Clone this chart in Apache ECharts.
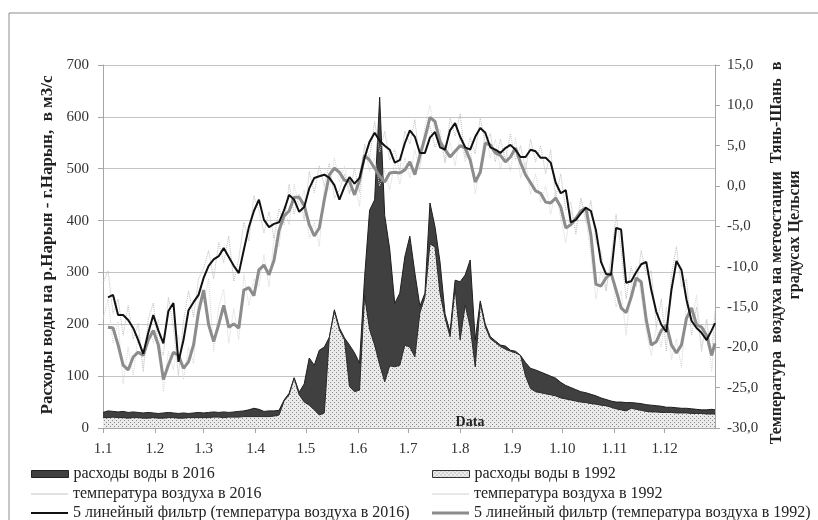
<!DOCTYPE html>
<html>
<head>
<meta charset="utf-8">
<script src="https://cdn.jsdelivr.net/npm/echarts@6/dist/echarts.min.js"></script>
<style>
html,body{margin:0;padding:0;background:#fff;}
#chart{width:818px;height:520px;}
</style>
</head>
<body>
<div id="chart"></div>
<script>
// ---- data ----
const monthLabels = ['1.1','1.2','1.3','1.4','1.5','1.6','1.7','1.8','1.9','1.10','1.11','1.12'];
const monthStarts = [0,31,60,91,121,152,182,213,244,274,305,335];

const days = [0,3,6,9,12,15,18,21,24,27,30,33,36,39,42,45,48,51,54,57,60,63,66,69,72,75,78,81,84,87,90,93,96,99,102,105,108,111,114,117,120,123,126,129,132,135,138,141,144,147,150,153,156,159,162,165,168,171,174,177,180,183,186,189,192,195,198,201,204,207,210,213,216,219,222,225,228,231,234,237,240,243,246,249,252,255,258,261,264,267,270,273,276,279,282,285,288,291,294,297,300,303,306,309,312,315,318,321,324,327,330,333,336,339,342,345,348,351,354,357,360,363,365];

// discharge, m3/s
const flow2016 = [30,33,32,31,32,30,31,30,29,30, 29,28,29,30,29,28,29,28,29,30,
 29,30,31,30,31,30,31,32,33,35, 38,36,32,33,33,34,54,67,97,69,
 85,135,121,150,156,175,228,193,174,160, 145,125,290,420,440,638,410,345,240,260,
 330,370,299,235,260,434,388,320,220,185, 285,282,295,324,170,245,200,176,168,160,
 158,150,148,140,126,115,112,108,104,100, 96,88,82,78,74,70,68,65,62,58,
 55,52,50,50,49,49,48,47,45,44, 43,42,40,40,39,38,38,37,36,35, 35,36,35];

const flow1992 = [20,20,21,20,20,19,20,20,19,19, 20,19,19,20,20,19,19,20,20,20,
 20,20,21,21,20,21,21,21,22,22, 22,22,22,22,23,25,52,64,96,64,
 50,44,35,25,29,175,225,189,170,80, 70,73,255,190,160,122,89,120,118,121,
 160,156,137,222,253,355,349,260,212,176, 270,170,237,195,118,240,195,172,165,157,
 152,148,145,140,100,76,70,68,66,64, 62,58,56,54,52,50,49,47,46,44,
 43,40,37,35,33,38,36,34,32,31, 31,30,30,30,29,29,29,28,28,28, 27,27,27];

// air temperature, deg C
const temp2016 = [-12.0,-10.5,-15.8,-14.0,-18.5,-14.8,-19.0,-17.0,-23.0,-16.5,
 -14.5,-19.8,-21.0,-13.8,-17.5,-23.5,-16.8,-13.0,-16.2,-11.5,
 -10.2,-8.0,-11.5,-7.0,-9.5,-6.2,-11.8,-9.0,-4.5,-6.8,
 -1.2,-3.0,-5.8,-3.2,-6.5,-2.8,-4.8,0.2,-3.5,-1.0,
 -4.2,1.8,-0.8,2.5,0.0,2.8,-1.5,-0.5,1.5,-1.0,
 2.2,-0.8,5.2,3.5,8.0,4.2,6.8,3.2,4.5,1.8,
 6.8,5.2,8.2,2.8,5.5,7.5,4.8,6.2,3.0,8.5,
 6.2,9.0,3.5,6.0,4.0,8.5,5.2,6.5,3.0,5.8,
 3.2,6.5,3.2,5.0,2.0,5.8,3.0,5.0,1.5,4.5,
 -1.5,1.5,-3.0,-2.0,-6.0,-1.5,-4.5,-1.8,-7.0,-8.0,
 -13.0,-9.0,-3.5,-8.0,-14.0,-10.0,-12.5,-8.0,-11.0,-10.5,
 -17.5,-14.0,-20.5,-11.0,-7.5,-12.5,-11.5,-18.5,-15.0,-20.5,
 -16.5,-21.0,-15.5];

const temp1992 = [-16.5,-14.0,-19.5,-16.8,-24.5,-20.0,-23.5,-18.5,-22.5,-17.0,
 -19.5,-16.5,-25.5,-20.5,-22.8,-18.5,-24.0,-20.0,-22.0,-13.5,
 -14.5,-11.5,-20.5,-15.0,-12.8,-19.5,-15.2,-19.0,-11.0,-14.8,
 -11.5,-12.5,-8.5,-12.5,-6.5,-7.5,-2.5,-4.8,0.2,-2.5,
 -0.5,-6.5,-4.5,-7.5,0.0,-0.5,3.5,0.5,2.5,-0.8,
 0.5,-2.5,4.8,1.8,3.5,0.0,2.0,-0.5,3.0,0.2,
 3.5,1.0,4.5,2.0,7.5,10.0,6.5,7.0,2.8,5.5,
 2.5,6.5,3.0,5.0,-1.0,2.5,6.8,3.5,5.8,2.0,
 4.8,1.8,6.0,1.0,3.0,-1.0,1.5,-2.0,0.0,-3.5,
 -0.5,-4.0,-7.0,-3.0,-5.5,-1.5,-4.0,-8.5,-14.0,-10.5,
 -13.0,-9.0,-15.0,-13.0,-18.5,-12.5,-10.0,-13.5,-18.0,-21.0,
 -17.5,-20.0,-15.0,-21.5,-19.0,-22.5,-14.5,-17.0,-13.5,-20.0,
 -16.5,-23.0,-18.0];

// 5-point filter lines as drawn
const filt2016 = [null,-13.8,-13.5,-16.0,-16.0,-16.6,-17.6,-19.1,-20.8,-18.2,
 -16.0,-17.9,-19.5,-15.5,-14.5,-21.8,-19.1,-15.4,-14.4,-13.5,
 -11.4,-9.9,-9.1,-8.7,-7.7,-8.8,-9.9,-10.8,-7.9,-5.1,
 -3.1,-1.7,-4.2,-5.1,-4.7,-4.5,-3.0,-1.1,-1.7,-3.2,
 -2.6,-0.3,1.0,1.2,1.4,1.0,0.1,-1.7,-0.1,1.1,
 0.3,1.0,3.5,5.5,6.6,5.6,5.0,4.5,2.9,3.2,
 5.3,6.9,6.1,4.1,4.1,6.0,6.7,4.8,4.5,6.9,
 7.8,6.1,4.8,4.5,6.1,7.2,6.6,4.8,4.5,4.1,
 4.7,5.1,4.5,3.6,3.6,4.5,4.3,3.5,3.5,2.9,
 0.4,-0.9,-0.5,-4.5,-4.2,-3.4,-2.7,-3.1,-5.5,-9.4,
 -10.9,-11.0,-5.2,-5.4,-12.0,-11.8,-10.7,-9.7,-9.4,-12.9,
 -15.6,-17.2,-18.1,-12.9,-9.3,-10.4,-14.1,-16.7,-17.6,-18.2,
 -19.1,-17.9,-17.0];

const filt1992 = [null,-17.5,-17.6,-19.7,-22.2,-22.8,-21.2,-20.6,-21.0,-19.1,
 -17.9,-19.7,-24.0,-22.2,-20.6,-21.0,-22.6,-21.8,-19.7,-15.6,
 -12.9,-17.2,-19.3,-17.2,-14.8,-17.5,-17.1,-17.6,-12.9,-12.6,
 -13.6,-10.4,-9.8,-11.0,-9.2,-5.5,-3.7,-3.1,-1.4,-1.4,
 -2.4,-4.8,-6.2,-5.2,-1.7,1.4,2.2,1.7,0.7,0.6,
 -1.1,0.7,3.8,3.2,2.2,1.2,0.5,1.6,1.7,1.6,
 2.0,3.0,1.4,3.8,6.0,8.5,8.0,5.5,4.5,3.6,
 4.3,5.0,4.7,3.2,0.5,1.7,5.3,5.1,4.1,3.8,
 3.0,3.6,4.7,2.9,1.4,0.4,-0.6,-0.9,-2.0,-2.1,
 -1.5,-2.6,-5.2,-4.8,-4.0,-3.1,-2.7,-6.1,-12.2,-12.4,
 -11.4,-10.8,-12.9,-15.1,-15.7,-13.8,-11.4,-11.9,-16.6,-19.7,
 -19.3,-17.9,-17.2,-19.7,-20.7,-19.7,-16.4,-15.1,-17.2,-17.5,
 -18.5,-21.0,-19.5];

const names = {
  q16: 'расходы воды в 2016',
  q92: 'расходы воды в 1992',
  t16: 'температура воздуха в 2016',
  t92: 'температура воздуха в 1992',
  f16: '5 линейный фильтр (температура воздуха в 2016)',
  f92: '5 линейный фильтр (температура воздуха в 1992)'
};

// ---- rendering ----
const FONT = '"Liberation Serif", "Times New Roman", serif';
const pair = arr => days.map((d, i) => [d, arr[i]]);

const pc = document.createElement('canvas');
pc.width = 4; pc.height = 4;
const pctx = pc.getContext('2d');
pctx.fillStyle = '#ebebeb'; pctx.fillRect(0, 0, 4, 4);
pctx.fillStyle = '#8a8a8a'; pctx.fillRect(0, 0, 1, 1); pctx.fillRect(2, 2, 1, 1);
const dotFill = { image: pc, repeat: 'repeat' };

const legendText = { fontFamily: FONT, fontSize: 16, color: '#222' };
function oneLegend(name, left, top, h, itemStyle) {
  return {
    left: left, top: top, padding: 0, orient: 'horizontal',
    itemWidth: 37, itemHeight: h, selectedMode: false,
    textStyle: legendText,
    data: [{ name: name, icon: 'rect', itemStyle: itemStyle }]
  };
}

const chart = echarts.init(document.getElementById('chart'), null, { renderer: 'canvas' });
const axisGray = '#a6a6a6';
const option = {
  animation: false,
  backgroundColor: '#ffffff',
  grid: { left: 103, right: 103, top: 65, bottom: 92, containLabel: false },
  xAxis: {
    type: 'value', min: 0, max: 365,
    axisLine: { show: true, onZero: false, lineStyle: { color: axisGray, width: 1 } },
    axisTick: { show: true, customValues: monthStarts, length: 5, lineStyle: { color: axisGray } },
    axisLabel: {
      customValues: monthStarts,
      formatter: v => monthLabels[monthStarts.indexOf(v)] || '',
      fontFamily: FONT, fontSize: 15, color: '#333', margin: 14
    },
    splitLine: { show: false }
  },
  yAxis: [
    {
      type: 'value', min: 0, max: 700, interval: 100, position: 'left',
      axisLine: { show: true, lineStyle: { color: axisGray } },
      axisTick: { show: true, length: 5, lineStyle: { color: axisGray } },
      axisLabel: { fontFamily: FONT, fontSize: 15, color: '#333', margin: 14 },
      splitLine: { show: true, lineStyle: { color: '#c4c4c4', width: 1 } }
    },
    {
      type: 'value', min: -30, max: 15, interval: 5, position: 'right',
      axisLine: { show: true, lineStyle: { color: axisGray } },
      axisTick: { show: true, length: 5, lineStyle: { color: axisGray } },
      axisLabel: {
        fontFamily: FONT, fontSize: 15, color: '#333', margin: 12,
        formatter: v => v.toFixed(1).replace('.', ',')
      },
      splitLine: { show: false }
    }
  ],
  legend: [
    oneLegend(names.q16, 31, 466, 7, { color: '#404040', borderColor: '#222', borderWidth: 1 }),
    oneLegend(names.t16, 31, 486, 1, { color: '#c4c4c4' }),
    oneLegend(names.f16, 31, 505, 2, { color: '#111111' }),
    oneLegend(names.q92, 432, 466, 7, { color: dotFill, borderColor: '#333', borderWidth: 1 }),
    oneLegend(names.t92, 432, 486, 1, { color: '#d2d2d2' }),
    oneLegend(names.f92, 432, 505, 3, { color: '#8c8c8c' })
  ],
  series: [
    {
      name: names.q16, type: 'line', yAxisIndex: 0, data: pair(flow2016),
      symbol: 'none', z: 1,
      lineStyle: { color: '#1e1e1e', width: 1 },
      itemStyle: { color: '#404040' },
      areaStyle: { color: '#404040', opacity: 1 }
    },
    {
      name: names.q92, type: 'line', yAxisIndex: 0, data: pair(flow1992),
      symbol: 'none', z: 2,
      lineStyle: { color: '#2a2a2a', width: 1 },
      itemStyle: { color: '#bdbdbd' },
      areaStyle: { color: dotFill, opacity: 1 }
    },
    {
      name: names.t16, type: 'line', yAxisIndex: 1, data: pair(temp2016),
      symbol: 'none', z: 3,
      lineStyle: { color: '#bdbdbd', width: 1, type: 'dotted' },
      itemStyle: { color: '#c4c4c4' }
    },
    {
      name: names.t92, type: 'line', yAxisIndex: 1, data: pair(temp1992),
      symbol: 'none', z: 3,
      lineStyle: { color: '#d6d6d6', width: 1, type: 'dotted' },
      itemStyle: { color: '#d2d2d2' }
    },
    {
      name: names.f16, type: 'line', yAxisIndex: 1, data: pair(filt2016),
      symbol: 'none', z: 5,
      lineStyle: { color: '#111111', width: 2 },
      itemStyle: { color: '#111111' }
    },
    {
      name: names.f92, type: 'line', yAxisIndex: 1, data: pair(filt1992),
      symbol: 'none', z: 4,
      lineStyle: { color: '#8c8c8c', width: 3 },
      itemStyle: { color: '#8c8c8c' }
    }
  ],
  graphic: [
    { type: 'rect', shape: { x: 9, y: 13, width: 900, height: 600 }, style: { fill: null, stroke: '#8c8c8c', lineWidth: 1 }, silent: true, z: -1 },
    { type: 'text', x: 48, y: 245, rotation: Math.PI / 2, z: 10,
      style: { text: 'Расходы воды на р.Нарын - г.Нарын,  в м3/с', font: 'bold 17px ' + FONT, fill: '#222', align: 'center', verticalAlign: 'middle' } },
    { type: 'text', x: 777, y: 253, rotation: Math.PI / 2, z: 10,
      style: { text: 'Температура  воздуха на метеостации  Тянь-Шань  в', font: 'bold 16px ' + FONT, fill: '#222', align: 'center', verticalAlign: 'middle' } },
    { type: 'text', x: 795, y: 235, rotation: Math.PI / 2, z: 10,
      style: { text: 'градусах Цельсия', font: 'bold 16px ' + FONT, fill: '#222', align: 'center', verticalAlign: 'middle' } },
    { type: 'text', x: 470, y: 422, z: 10,
      style: { text: 'Data', font: 'bold 14px ' + FONT, fill: '#222', align: 'center', verticalAlign: 'middle' } }
  ]
};
chart.setOption(option);
</script>
</body>
</html>
